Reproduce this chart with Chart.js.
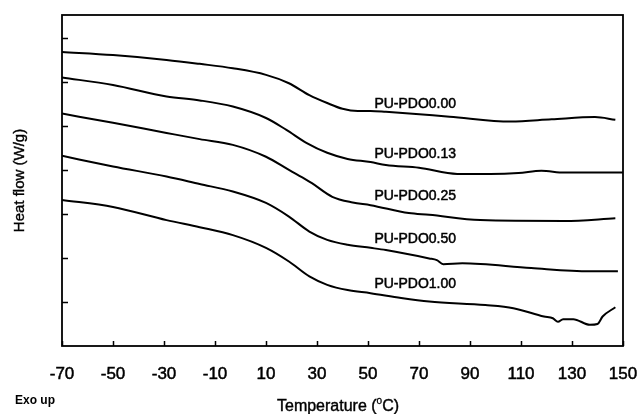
<!DOCTYPE html>
<html>
<head>
<meta charset="utf-8">
<script src="https://cdn.jsdelivr.net/npm/chart.js@4"></script>
<style>
    html, body { margin: 0; padding: 0; background: #fff; }
    #wrap { width: 638px; height: 414px; }
</style>
</head>
<body>
<div id="wrap"><canvas id="dscChart" width="638" height="414"></canvas></div>
<script>
// DSC curves (temperature in C, heat flow in arbitrary units)
const seriesNames = ['PU-PDO0.00', 'PU-PDO0.13', 'PU-PDO0.25', 'PU-PDO0.50', 'PU-PDO1.00'];

const temp000 = [-70, -50, -29, -16, -3, 10, 19, 27, 34, 40, 46, 51, 57, 82, 106, 122, 139, 147];
const flow000 = [6.68, 6.61, 6.50, 6.41, 6.31, 6.16, 5.97, 5.70, 5.52, 5.39, 5.34, 5.34, 5.32, 5.21, 5.10, 5.15, 5.20, 5.14];

const temp013 = [-70, -50, -29, -16, -3, 10, 18, 26, 34, 42, 51, 57, 70, 85, 98, 109, 118, 127, 150];
const flow013 = [6.10, 5.93, 5.67, 5.58, 5.44, 5.18, 4.91, 4.61, 4.39, 4.25, 4.18, 4.11, 4.05, 3.91, 3.91, 3.93, 3.98, 3.94, 3.94];

const temp025 = [-70, -50, -29, -16, -3, 10, 19, 26, 28, 36, 44, 51, 66, 74, 94, 127, 147];
const flow025 = [5.28, 5.07, 4.84, 4.70, 4.57, 4.30, 4.00, 3.77, 3.70, 3.39, 3.26, 3.20, 3.02, 2.98, 2.86, 2.84, 2.90];

const temp050 = [-70, -50, -29, -16, -3, 10, 19, 27, 34, 42, 51, 57, 74, 77, 79.5, 87, 114, 137, 148];
const flow050 = [4.32, 4.08, 3.85, 3.68, 3.51, 3.25, 2.94, 2.60, 2.41, 2.30, 2.23, 2.18, 1.99, 1.95, 1.86, 1.88, 1.77, 1.70, 1.70];

const temp100 = [-70, -50, -29, -16, -3, 10, 19, 27, 34, 42, 51, 63, 74, 96, 107, 119, 122.5, 124.5, 126.5, 130.5, 137, 140, 142, 147];
const flow100 = [3.32, 3.16, 2.86, 2.70, 2.52, 2.23, 1.92, 1.58, 1.39, 1.27, 1.20, 1.09, 1.01, 0.93, 0.86, 0.67, 0.63, 0.55, 0.61, 0.61, 0.48, 0.50, 0.67, 0.88];

const xTicks = [-70, -50, -30, -10, 10, 30, 50, 70, 90, 110, 130, 150];
const yTicks = [1, 2, 3, 4, 5, 6, 7];

// where each curve name sits (temperature, heat flow)
const nameSpots = [[52.5, 5.50], [52.5, 4.36], [52.5, 3.41], [52.5, 2.43], [52.5, 1.41]];

const allTemps = [temp000, temp013, temp025, temp050, temp100];
const allFlows = [flow000, flow013, flow025, flow050, flow100];

function toPoints(t, f) {
    return t.map(function(x, i) { return { x: x, y: f[i] }; });
}

const datasets = seriesNames.map(function(name, i) {
    return {
        label: name,
        data: toPoints(allTemps[i], allFlows[i]),
        borderColor: '#000',
        borderWidth: 2,
        pointRadius: 0,
        fill: false,
        cubicInterpolationMode: 'monotone'
    };
});

// slightly heavier text, the scan looks inky
function inkText(c, txt, x, y, w) {
    c.lineWidth = w;
    c.strokeText(txt, x, y);
    c.fillText(txt, x, y);
}

// frame, inward ticks, curve names and axis titles
const decorations = {
    id: 'decorations',
    afterDraw: function(chart) {
        const c = chart.ctx;
        const a = chart.chartArea;
        const xs = chart.scales.x;
        const ys = chart.scales.y;
        c.save();
        c.strokeStyle = '#000';
        c.lineWidth = 1.8;
        c.strokeRect(a.left, a.top, a.right - a.left, a.bottom - a.top);

        c.lineWidth = 1.5;
        c.beginPath();
        xTicks.forEach(function(t) {
            const px = Math.round(xs.getPixelForValue(t)) + 0.5;
            c.moveTo(px, a.bottom);
            c.lineTo(px, a.bottom - 5);
        });
        yTicks.forEach(function(t) {
            const py = Math.round(ys.getPixelForValue(t)) + 0.5;
            c.moveTo(a.left, py);
            c.lineTo(a.left + 6, py);
        });
        c.stroke();

        c.fillStyle = '#000';
        c.font = '14px "Liberation Sans", Arial, sans-serif';
        c.textBaseline = 'middle';
        c.textAlign = 'left';
        nameSpots.forEach(function(s, i) {
            inkText(c, seriesNames[i], xs.getPixelForValue(s[0]), ys.getPixelForValue(s[1]), 0.5);
        });

        // x title with superscript o
        c.textBaseline = 'alphabetic';
        const mainFont = '16px "Liberation Sans", Arial, sans-serif';
        const supFont = '10px "Liberation Sans", Arial, sans-serif';
        c.font = mainFont;
        const p1 = 'Temperature (';
        const p3 = 'C)';
        const w1 = c.measureText(p1).width;
        const w3 = c.measureText(p3).width;
        c.font = supFont;
        const w2 = c.measureText('o').width;
        let x0 = 338 - (w1 + w2 + w3) / 2;
        const base = 411;
        c.font = mainFont;
        inkText(c, p1, x0, base, 0.4);
        c.font = supFont;
        inkText(c, 'o', x0 + w1, base - 7, 0.3);
        c.font = mainFont;
        inkText(c, p3, x0 + w1 + w2, base, 0.4);

        // y title
        c.save();
        c.translate(20, (a.top + a.bottom) / 2);
        c.rotate(-Math.PI / 2);
        c.textAlign = 'center';
        c.textBaseline = 'middle';
        c.font = '15px "Liberation Sans", Arial, sans-serif';
        inkText(c, 'Heat flow (W/g)', 0, 0, 0.4);
        c.restore();

        c.font = 'bold 12px "Liberation Sans", Arial, sans-serif';
        c.textAlign = 'left';
        c.fillText('Exo up', 15, 404);
        c.restore();
    }
};

const ctx = document.getElementById('dscChart').getContext('2d');
const dscChart = new Chart(ctx, {
    type: 'line',
    data: { datasets: datasets },
    options: {
        responsive: false,
        animation: false,
        layout: { padding: { top: 15, right: 15, left: 0, bottom: 0 } },
        plugins: {
            legend: { display: false },
            tooltip: { enabled: false }
        },
        scales: {
            x: {
                type: 'linear',
                min: -70,
                max: 150,
                border: { display: false },
                grid: { display: false, drawTicks: false },
                afterBuildTicks: function(axis) {
                    axis.ticks = xTicks.map(function(v) { return { value: v }; });
                },
                afterFit: function(axis) {
                    axis.height = 68;
                    axis.paddingLeft = 0;
                    axis.paddingRight = 0;
                },
                ticks: {
                    padding: 18,
                    maxRotation: 0,
                    autoSkip: false,
                    color: '#000',
                    textStrokeColor: '#000',
                    textStrokeWidth: 0.5,
                    font: { size: 17, family: '"Liberation Sans", Arial, sans-serif' }
                }
            },
            y: {
                min: 0,
                max: 7.52,
                border: { display: false },
                grid: { display: false, drawTicks: false },
                ticks: { display: false },
                afterFit: function(axis) { axis.width = 62; }
            }
        }
    },
    plugins: [decorations]
});
</script>
</body>
</html>
